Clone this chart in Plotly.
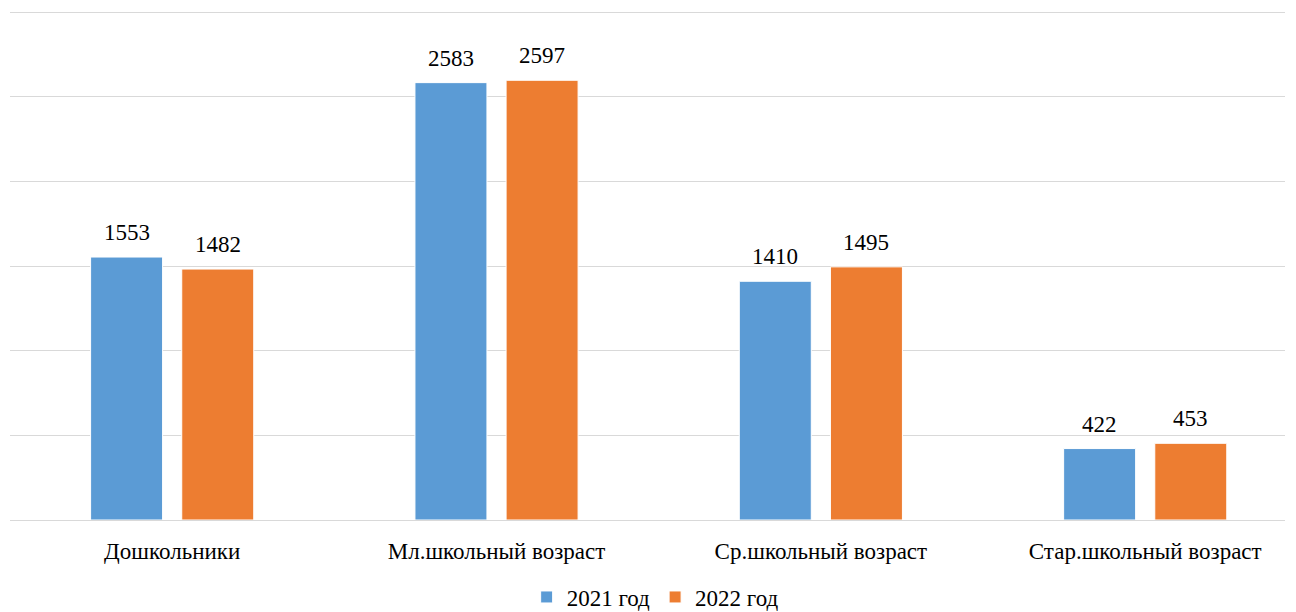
import plotly.graph_objects as go

categories = ["Дошкольники", "Мл.школьный возраст", "Ср.школьный возраст", "Стар.школьный возраст"]
series_names = ["2021 год", "2022 год"]
values_2021 = [1553, 2583, 1410, 422]
values_2022 = [1482, 2597, 1495, 453]
colors = ["#5B9BD5", "#ED7D31"]

font_family = "Liberation Serif, Times New Roman, serif"

fig = go.Figure()
for name, vals, col in zip(series_names, [values_2021, values_2022], colors):
    fig.add_trace(go.Bar(
        x=categories, y=vals, name=name,
        marker=dict(color=col, line=dict(color="white", width=1)),
    ))

# data labels above each bar
shifts = [-45.6, 45.6]
for vals, sh in zip([values_2021, values_2022], shifts):
    for cat, v in zip(categories, vals):
        fig.add_annotation(x=cat, y=v, text=str(v), showarrow=False,
                           xshift=sh, yshift=10, yanchor="bottom",
                           font=dict(family=font_family, size=23, color="black"))

fig.update_layout(
    width=1288, height=604,
    paper_bgcolor="white", plot_bgcolor="white",
    margin=dict(l=2, r=11, t=2, b=92, autoexpand=False),
    barmode="group", bargap=0.438, bargroupgap=0.21,
    font=dict(family=font_family, size=23, color="black"),
    showlegend=True,
    legend=dict(orientation="h", x=0.506, xanchor="center", y=-0.151, yanchor="middle",
                font=dict(family=font_family, size=23, color="black"),
                itemwidth=30, traceorder="normal"),
    yaxis=dict(range=[0, 3012], tickvals=[500, 1000, 1500, 2000, 2500, 3000],
               showticklabels=False, showgrid=True,
               gridcolor="#D9D9D9", gridwidth=1.3, zeroline=False, showline=False),
    xaxis=dict(range=[-0.5, 3.431], showline=True, linecolor="#D9D9D9", linewidth=1.3, ticks="",
               ticklabelstandoff=10, tickfont=dict(family=font_family, size=23, color="black")),
)

fig.write_html("out.html")
